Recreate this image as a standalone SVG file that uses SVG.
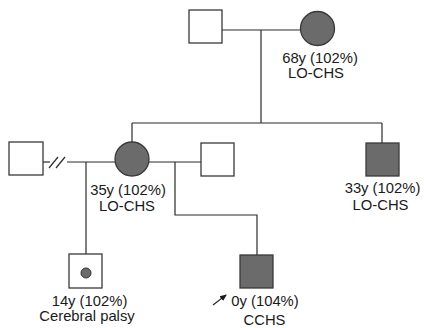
<svg xmlns="http://www.w3.org/2000/svg" width="424" height="328" viewBox="0 0 424 328">
<style>
.ln{stroke:#2a2a2a;stroke-width:1.2;fill:none}
.m{fill:#fff;stroke:#3a3a3a;stroke-width:1.3}
.a{fill:#6b6b6b;stroke:#3a3a3a;stroke-width:1.3}
text{font-family:"Liberation Sans",Arial,sans-serif;font-size:14.8px;fill:#1a1a1a;text-anchor:middle}
</style>
<defs>
<marker id="ah" markerWidth="8" markerHeight="8" refX="6" refY="4" orient="auto" markerUnits="userSpaceOnUse">
<path d="M0,1 L7,4 L0,7 Z" fill="#1a1a1a"/>
</marker>
</defs>
<g id="connectors">
<line class="ln" x1="222" y1="30" x2="301" y2="30"/>
<line class="ln" x1="261" y1="30" x2="261" y2="123"/>
<line class="ln" x1="132" y1="123" x2="382" y2="123"/>
<line class="ln" x1="132" y1="123" x2="132" y2="142"/>
<line class="ln" x1="382" y1="123" x2="382" y2="143"/>
<line class="ln" x1="43" y1="162" x2="50" y2="162"/>
<line class="ln" x1="67" y1="162" x2="115" y2="162"/>
<line class="ln" x1="49" y1="168" x2="58" y2="157"/>
<line class="ln" x1="56" y1="168" x2="65" y2="157"/>
<line class="ln" x1="149" y1="162" x2="201" y2="162"/>
<line class="ln" x1="86" y1="162" x2="86" y2="254"/>
<polyline class="ln" points="175,162 175,215 257,215 257,255"/>
<line class="ln" x1="213" y1="305" x2="226" y2="295" marker-end="url(#ah)"/>
</g>
<g id="grandfather"><rect class="m" x="189" y="10" width="33" height="33"/></g>
<g id="grandmother"><circle class="a" cx="317.5" cy="28.5" r="17"/>
<text x="320" y="63">68y (102%)</text><text x="316" y="78">LO-CHS</text></g>
<g id="husband1"><rect class="m" x="9" y="142" width="34" height="33"/></g>
<g id="mother"><circle class="a" cx="132" cy="159" r="17"/>
<text x="128" y="195">35y (102%)</text><text x="127" y="211">LO-CHS</text></g>
<g id="husband2"><rect class="m" x="201" y="143" width="33" height="33"/></g>
<g id="uncle"><rect class="a" x="366" y="143" width="33" height="33"/>
<text x="382.5" y="193">33y (102%)</text><text x="380.5" y="210">LO-CHS</text></g>
<g id="son1"><rect class="m" x="69" y="254" width="33" height="34"/>
<circle cx="86" cy="273" r="5" fill="#6b6b6b" stroke="#333" stroke-width="1"/>
<text x="89.5" y="306">14y (102%)</text><text x="87" y="321">Cerebral palsy</text></g>
<g id="proband"><rect class="a" x="240" y="255" width="33" height="33"/>
<text x="265" y="306">0y (104%)</text><text x="264.5" y="325">CCHS</text></g>
</svg>
